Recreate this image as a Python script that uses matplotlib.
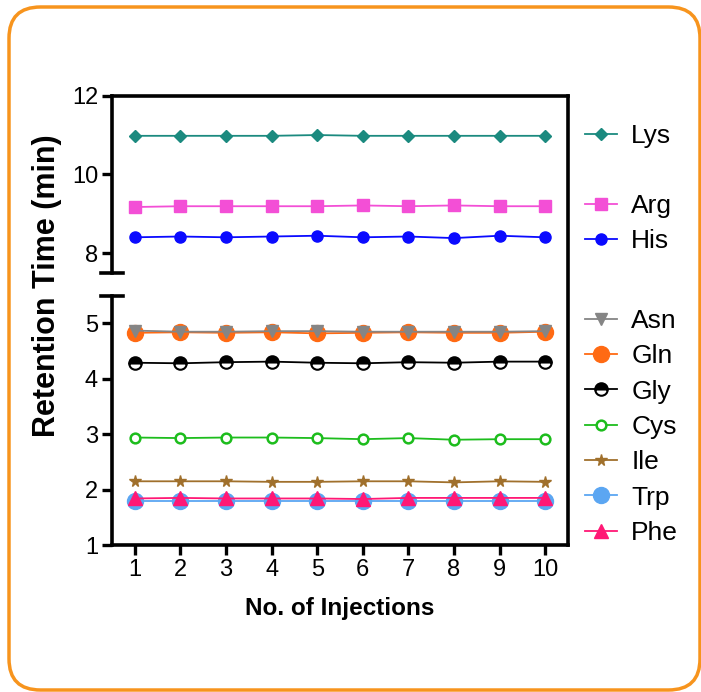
import numpy as np
import matplotlib
matplotlib.use("Agg")
import matplotlib.pyplot as plt
from matplotlib.patches import FancyBboxPatch
from matplotlib.lines import Line2D

plt.rcParams['font.family'] = ['Liberation Sans', 'DejaVu Sans']

injections = np.arange(1, 11)

lys = [10.98, 10.98, 10.98, 10.98, 11.00, 10.98, 10.98, 10.98, 10.98, 10.98]
arg = [9.17, 9.19, 9.19, 9.19, 9.19, 9.21, 9.19, 9.21, 9.19, 9.19]
his = [8.40, 8.42, 8.40, 8.42, 8.44, 8.40, 8.42, 8.38, 8.44, 8.40]
asn = [4.87, 4.85, 4.85, 4.86, 4.86, 4.85, 4.85, 4.85, 4.85, 4.86]
gln = [4.83, 4.84, 4.83, 4.84, 4.82, 4.83, 4.84, 4.83, 4.83, 4.85]
gly = [4.29, 4.28, 4.30, 4.31, 4.29, 4.28, 4.30, 4.29, 4.31, 4.31]
cys = [2.94, 2.93, 2.94, 2.94, 2.93, 2.91, 2.93, 2.90, 2.91, 2.91]
ile = [2.15, 2.15, 2.15, 2.14, 2.14, 2.15, 2.15, 2.13, 2.15, 2.14]
trp = [1.79, 1.79, 1.79, 1.79, 1.79, 1.79, 1.79, 1.79, 1.79, 1.79]
phe = [1.84, 1.85, 1.84, 1.84, 1.84, 1.83, 1.85, 1.85, 1.85, 1.85]

W, H = 701, 692
fig = plt.figure(figsize=(W/100, H/100), dpi=100)

def fx(px): return px / W
def fy(py): return 1 - py / H

L, R = 112, 568
ax_up = fig.add_axes([fx(L), fy(272.7), fx(R) - fx(L), fy(95.7) - fy(272.7)])
ax_lo = fig.add_axes([fx(L), fy(545), fx(R) - fx(L), fy(295.7) - fy(545)])

lw = 1.3
h = {}
h['Lys'], = ax_up.plot(injections, lys, '-D', color='#1b8a7f', ms=6.5, lw=lw)
h['Arg'], = ax_up.plot(injections, arg, '-s', color='#f34fd6', ms=8.5, lw=lw)
h['His'], = ax_up.plot(injections, his, '-o', color='#0a0aff', ms=8, lw=lw)

h['Gln'], = ax_lo.plot(injections, gln, '-o', color='#ff6a13', ms=11.5, lw=lw, zorder=2)
h['Asn'], = ax_lo.plot(injections, asn, '-v', color='#858585', ms=8.5, lw=lw, zorder=3)
h['Gly'], = ax_lo.plot(injections, gly, '-o', color='black', ms=9, lw=lw,
                       fillstyle='top', markerfacecoloralt='white', mew=1.5)
h['Cys'], = ax_lo.plot(injections, cys, '-o', color='#1dbd1d', ms=7, lw=lw,
                       mfc='white', mew=1.8)
h['Ile'], = ax_lo.plot(injections, ile, '-*', color='#a0702c', ms=8.5, lw=lw)
h['Trp'], = ax_lo.plot(injections, trp, '-o', color='#5ba6f2', ms=11.5, lw=lw, zorder=2)
h['Phe'], = ax_lo.plot(injections, phe, '-^', color='#ff1875', ms=9.5, lw=lw, zorder=3)

ax_up.set_ylim(7.5, 12)
ax_up.set_yticks([8, 10, 12])
ax_lo.set_ylim(1, 5.5)
ax_lo.set_yticks([1, 2, 3, 4, 5])
for ax in (ax_up, ax_lo):
    ax.set_xlim(0.5, 10.5)
    ax.tick_params(width=2.4, length=7, labelsize=17, direction='out', pad=3)
    for s in ax.spines.values():
        s.set_linewidth(2.6)
    ax.spines['right'].set_visible(False)
ax_up.spines['bottom'].set_visible(False)
ax_up.tick_params(axis='x', bottom=False, labelbottom=False)
ax_lo.spines['top'].set_visible(False)
ax_lo.set_xticks(injections)

# right border running through the break, and caps on the left break
fig.add_artist(Line2D([fx(R), fx(R)], [fy(545), fy(95.7)], color='black', lw=2.6,
                      solid_capstyle='projecting'))
for yb in (272.7, 295.7):
    fig.add_artist(Line2D([fx(101), fx(123)], [fy(yb), fy(yb)], color='black', lw=2.6))

fig.text(fx(340), fy(609), 'No. of Injections', fontsize=17.5, fontweight='bold',
         ha='center', va='center')
fig.text(fx(47), fy(286), 'Retention Time (min)', rotation=90, fontsize=22,
         fontweight='bold', ha='center', va='center')

leg_kw = dict(frameon=False, fontsize=19, handlelength=1.2, handletextpad=0.55,
              borderpad=0, borderaxespad=0, loc='center left')
fig.legend([h['Lys']], ['Lys'], bbox_to_anchor=(fx(585), fy(136)), **leg_kw)
fig.legend([h['Arg'], h['His']], ['Arg', 'His'], labelspacing=0.4,
           bbox_to_anchor=(fx(585), fy(223.5)), **leg_kw)
names = ['Asn', 'Gln', 'Gly', 'Cys', 'Ile', 'Trp', 'Phe']
fig.legend([h[n] for n in names], names, labelspacing=0.43,
           bbox_to_anchor=(fx(585), fy(427)), **leg_kw)

fig.add_artist(FancyBboxPatch((fx(9), fy(690)), fx(700) - fx(9), fy(7) - fy(690),
                              boxstyle='round,pad=0,rounding_size=0.045',
                              transform=fig.transFigure, fill=False,
                              edgecolor='#f7941d', lw=2.5))

fig.savefig('out.png', dpi=100)
